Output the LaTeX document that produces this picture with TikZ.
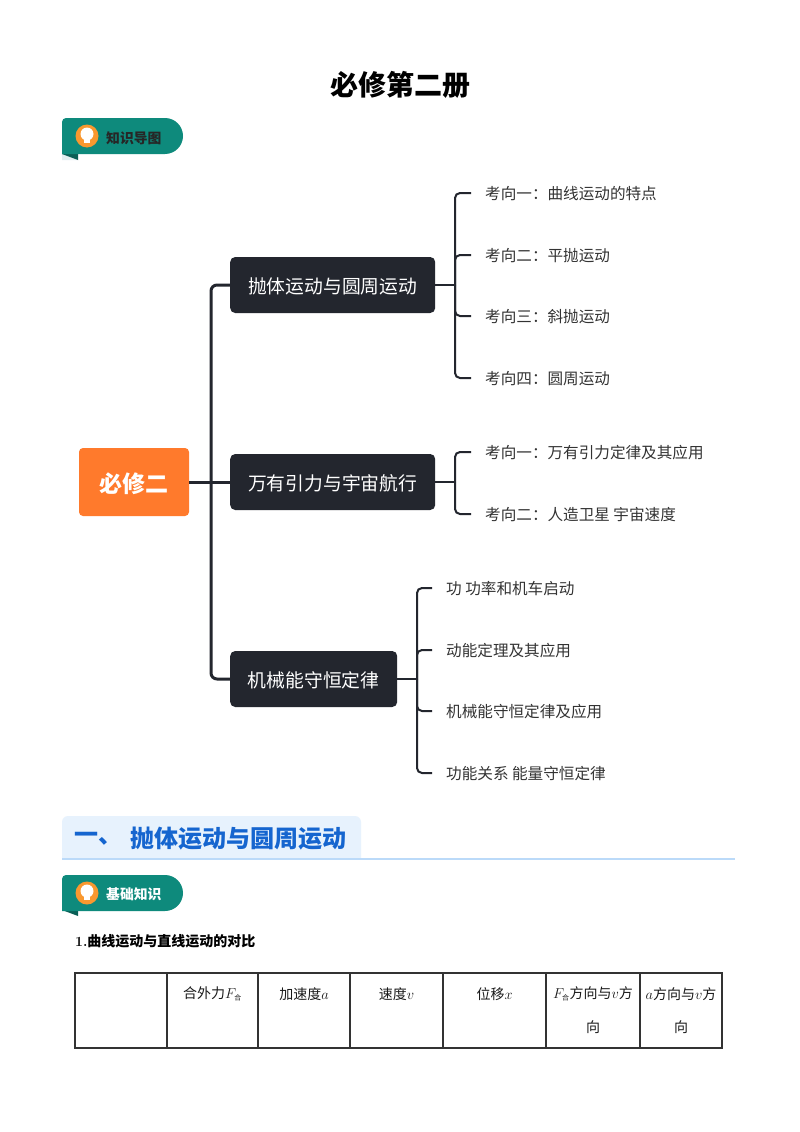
\documentclass[tikz,border=0pt]{standalone}
\usepackage{fontspec}
\setmainfont{Noto Sans CJK SC}
\newfontfamily\numfont{Latin Modern Roman}
\definecolor{inkdark}{HTML}{23262E}
\definecolor{rootorange}{HTML}{FF7A2C}
\definecolor{badgeteal}{HTML}{0E8A7C}
\definecolor{foldteal}{HTML}{0A5F56}
\definecolor{foldlight}{HTML}{E2EEF0}
\definecolor{bulborange}{HTML}{F9982F}
\definecolor{bannerblue}{HTML}{E7F2FD}
\definecolor{rulerblue}{HTML}{BBDAF9}
\definecolor{headblue}{HTML}{1565CF}
\newcommand{\fs}[1]{\fontsize{#1}{#1}\selectfont}
\tikzset{
	topicbox/.style={fill=inkdark,text=white,rounded corners=5pt,anchor=west,minimum height=56pt,inner xsep=0pt,align=center,text height=19.6pt,text depth=2pt,font=\fs{18.8}},
	leaf/.style={anchor=west,inner xsep=14pt,inner ysep=2pt,text=black!80,text height=15.8pt,text depth=2pt,font=\fs{15.6}},
	link/.style={draw=inkdark,line width=2pt,rounded corners=5pt},
	trunk/.style={draw=inkdark,line width=3pt,rounded corners=6pt},
	cell/.style={font=\fs{14},text=black!90,inner sep=0pt},
	badgetext/.style={anchor=west,inner sep=0pt,font=\bfseries\fs{13.8}},
}
\begin{document}
\begin{tikzpicture}[x=1pt,y=-1pt]
	\useasboundingbox (0,0) rectangle (800,1132);
	\fill[white] (0,0) rectangle (800,1132);
	\node[font=\bfseries\fs{28}] (title) at (400,85) {必修第二册};

	% badge one
	\fill[foldlight] (62,154) -- (78,160) -- (62,160) -- cycle;
	\fill[foldteal] (62,154) -- (78,154) -- (78,160) -- cycle;
	\fill[badgeteal] (62,154) [rounded corners=4pt] -- (62,118) [rounded corners=18pt] -- (183,118) -- (183,154) [sharp corners] -- cycle;
	\fill[bulborange] (87,136) circle (11.5);
	\fill[white] (87,134) circle (6.5);
	\fill[white] (84,138) rectangle (90,143);
	\node[badgetext,text=black!85] (badgemap) at (106,138) {知识导图};

	% mind map
	\node[fill=rootorange,text=white,rounded corners=4pt,minimum width=110pt,minimum height=68pt,inner sep=0pt,text height=24.4pt,text depth=3pt,font=\bfseries\fs{23}] (root) at (134,482) {必修二};
	\node[topicbox,minimum width=205pt] (throw) at (230,285) {抛体运动与圆周运动};
	\node[topicbox,minimum width=205pt] (gravity) at (230,482) {万有引力与宇宙航行};
	\node[topicbox,minimum width=167pt] (energy) at (230,679) {机械能守恒定律};

	\coordinate (fork) at (211,482);
	\draw[trunk] (root.east) -- (gravity.west);
	\draw[trunk] (fork) |- (throw.west);
	\draw[trunk] (fork) |- (energy.west);

	\node[leaf] (throwa) at (471,193) {考向一：曲线运动的特点};
	\node[leaf] (throwb) at (471,255) {考向二：平抛运动};
	\node[leaf] (throwc) at (471,316) {考向三：斜抛运动};
	\node[leaf] (throwd) at (471,378) {考向四：圆周运动};
	\coordinate (throwfork) at (455,285);
	\draw[link] (throw.east) -- (throwfork);
	\foreach \n in {throwa,throwb,throwc,throwd}
		\draw[link] (throwfork) |- (\n.west);

	\node[leaf] (gravitya) at (471,452) {考向一：万有引力定律及其应用};
	\node[leaf] (gravityb) at (471,514) {考向二：人造卫星 宇宙速度};
	\coordinate (gravityfork) at (455,482);
	\draw[link] (gravity.east) -- (gravityfork);
	\foreach \n in {gravitya,gravityb}
		\draw[link] (gravityfork) |- (\n.west);

	\node[leaf] (energya) at (432,588) {功 功率和机车启动};
	\node[leaf] (energyb) at (432,650) {动能定理及其应用};
	\node[leaf] (energyc) at (432,711) {机械能守恒定律及应用};
	\node[leaf] (energyd) at (432,773) {功能关系 能量守恒定律};
	\coordinate (energyfork) at (417,679);
	\draw[link] (energy.east) -- (energyfork);
	\foreach \n in {energya,energyb,energyc,energyd}
		\draw[link] (energyfork) |- (\n.west);

	% section banner
	\fill[bannerblue] (62,859) [rounded corners=6pt] -- (62,816) -- (361,816) [sharp corners] -- (361,859) -- cycle;
	\draw[rulerblue,line width=2pt] (62,859) -- (735,859);
	\node[anchor=west,inner sep=0pt,text=headblue,font=\bfseries\fs{24}] (bannerno) at (74,839) {一、};
	\node[anchor=west,inner sep=0pt,text=headblue,font=\bfseries\fs{24}] (bannertext) at (130,839) {抛体运动与圆周运动};

	% badge two
	\fill[foldteal] (62,910) -- (78,910) -- (78,916) -- cycle;
	\fill[badgeteal] (62,911) [rounded corners=4pt] -- (62,875) [rounded corners=18pt] -- (183,875) -- (183,911) [sharp corners] -- cycle;
	\fill[bulborange] (87,893) circle (11.5);
	\fill[white] (87,891) circle (6.5);
	\fill[white] (84,895) rectangle (90,900);
	\node[badgetext,text=white] (badgebasic) at (106,894) {基础知识};

	\node[anchor=west,inner sep=0pt,font=\bfseries\fs{14}] (heading) at (75,941) {{\numfont 1.}曲线运动与直线运动的对比};

	% table
	\draw[black!80,line width=1.3pt] (75,973) rectangle (722,1048);
	\foreach \x in {167,258,350,443,546,640}
		\draw[black!80,line width=1.3pt] (\x,973) -- (\x,1048);
	\node[cell] (force) at (212.5,994) {合外力$F_{\mbox{\fs{7}合}}$};
	\node[cell] (accel) at (304,994) {加速度$a$};
	\node[cell] (speed) at (396.5,994) {速度$v$};
	\node[cell] (shift) at (494.5,994) {位移$x$};
	\node[cell] (forcedir) at (593,994) {$F_{\mbox{\fs{7}合}}$方向与$v$方};
	\node[cell] (forcedirb) at (593,1027) {向};
	\node[cell] (acceldir) at (681,994) {$a$方向与$v$方};
	\node[cell] (acceldirb) at (681,1027) {向};
\end{tikzpicture}
\end{document}
